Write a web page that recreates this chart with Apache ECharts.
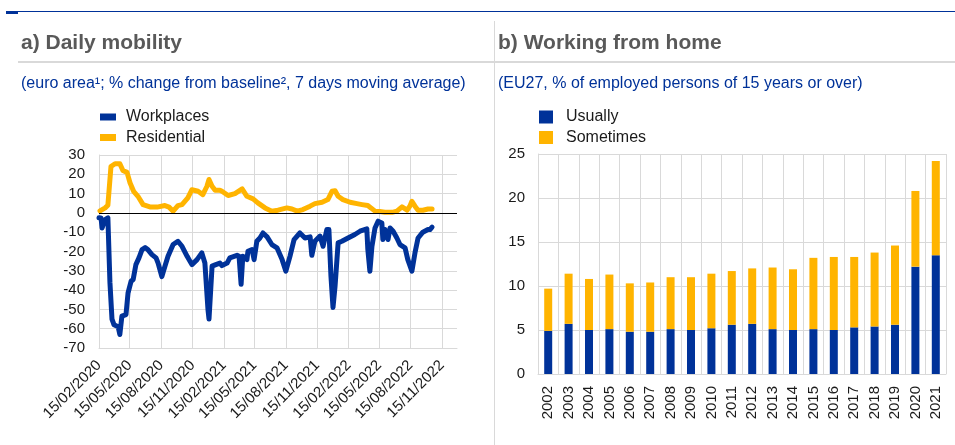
<!DOCTYPE html>
<html>
<head>
<meta charset="utf-8">
<script src="https://cdn.jsdelivr.net/npm/echarts@6/dist/echarts.min.js"></script>
<style>
  html, body { margin: 0; padding: 0; background: #fff; }
  #chart { width: 955px; height: 445px; }
</style>
</head>
<body>
<div id="chart"></div>
<script>
// ---- Panel a) Daily mobility: euro area, % change from baseline, 7-day moving average ----
const workplacesDates = [
  '2020-02-15','2020-02-21','2020-02-24','2020-03-04','2020-03-12','2020-03-18','2020-03-24','2020-03-30',
  '2020-04-11','2020-04-16','2020-04-22','2020-05-04','2020-05-10','2020-05-19','2020-05-25','2020-06-02',
  '2020-06-11','2020-06-20','2020-06-29','2020-07-07','2020-07-19','2020-07-31','2020-08-06','2020-08-17',
  '2020-08-26','2020-09-04','2020-09-19','2020-10-03','2020-10-15','2020-10-30','2020-11-13','2020-11-28',
  '2020-12-12','2020-12-21','2020-12-30','2021-01-02','2021-01-11','2021-01-22','2021-02-03','2021-02-09',
  '2021-02-24','2021-03-04','2021-03-25','2021-03-31','2021-04-06','2021-04-11','2021-04-23','2021-04-26',
  '2021-05-08','2021-05-14','2021-05-22','2021-05-31','2021-06-09','2021-06-21','2021-07-05','2021-07-20',
  '2021-08-04','2021-08-15','2021-08-27','2021-09-08','2021-09-25','2021-10-10','2021-10-25','2021-10-30',
  '2021-11-08','2021-11-23','2021-12-02','2021-12-13','2021-12-19','2021-12-25','2021-12-31','2022-01-06',
  '2022-01-15','2022-01-26','2022-02-13','2022-03-05','2022-03-20','2022-04-09','2022-04-12','2022-04-18',
  '2022-04-24','2022-05-03','2022-05-12','2022-05-23','2022-05-26','2022-06-01','2022-06-10','2022-06-16',
  '2022-06-25','2022-07-06','2022-07-15','2022-07-30','2022-08-07','2022-08-19','2022-08-28','2022-09-06',
  '2022-09-20','2022-10-05','2022-10-11','2022-10-17'
];
const workplacesValues = [
  -2.5, -2.6, -7.8, -3.5, -2.6, -36, -55, -58,
  -59, -63, -53.5, -52.7, -41.5, -35.4, -34.5, -26.8,
  -23.3, -19, -18, -19, -21.6, -23.3, -26, -33,
  -27.6, -22.5, -16.4, -14.7, -17.3, -22.5, -26.8, -24.2,
  -20.7, -26, -50, -55, -27.6, -26.8, -26, -27.3,
  -26, -23.3, -22, -22.5, -37, -22.5, -24.2, -19.9,
  -19, -24.2, -14.7, -13, -10.4, -12.4, -16.4, -18.1,
  -24.2, -30.2, -22.5, -13.8, -10.4, -13, -12.4, -22,
  -14.7, -12, -17.3, -8.6, -8.6, -32.8, -49, -38,
  -15.5, -14.7, -13, -11.2, -9.5, -8.3, -19, -30.2,
  -17.3, -7.8, -4.3, -5.2, -13.8, -8.6, -13.8, -7.8,
  -9.5, -13, -16.4, -18.1, -24.2, -30.2, -20.7, -13,
  -10, -8.6, -8.6, -7.4
];
const residentialDates = [
  '2020-02-18','2020-03-04','2020-03-12','2020-03-21','2020-04-02','2020-04-16','2020-04-25','2020-05-07',
  '2020-05-16','2020-05-27','2020-06-08','2020-06-23','2020-07-13','2020-08-03','2020-08-26','2020-09-07',
  '2020-09-19','2020-10-03','2020-10-15','2020-11-01','2020-11-13','2020-12-01','2020-12-15','2020-12-27',
  '2021-01-02','2021-01-11','2021-01-20','2021-02-03','2021-02-09','2021-02-27','2021-03-19','2021-04-09',
  '2021-04-23','2021-05-11','2021-05-25','2021-06-15','2021-07-05','2021-07-23','2021-08-18','2021-09-02',
  '2021-09-17','2021-10-04','2021-10-25','2021-11-08','2021-11-29','2021-12-16','2021-12-28','2022-01-06',
  '2022-01-15','2022-01-29','2022-02-19','2022-03-11','2022-03-26','2022-04-12','2022-04-21','2022-05-03',
  '2022-05-17','2022-06-01','2022-06-22','2022-07-06','2022-07-21','2022-08-05','2022-08-13','2022-08-19',
  '2022-08-28','2022-09-06','2022-09-20','2022-10-05','2022-10-17'
];
const residentialValues = [
  1, 2.6, 4, 24, 25.5, 25.5, 22, 21,
  15.5, 11, 8.6, 4.3, 3.1, 3, 3.8, 3,
  0.9, 3.8, 4.3, 7.8, 12, 11.2, 9.5, 13.8,
  17.3, 13.8, 11.7, 11.7, 11.2, 9, 10, 12.4,
  8.6, 7.3, 5.2, 2.6, 0.9, 1.4, 2.6, 2,
  0.9, 1.7, 3.5, 4.8, 5.5, 6.9, 11.2, 11.5,
  8.6, 6.9, 5.5, 4.8, 4.3, 3.8, 2.6, 0.9,
  0.7, 0.3, 0.3, 0.9, 3.1, 1.4, 3.5, 6,
  3.5, 1.4, 1.4, 2, 2
];
// Quarterly date ticks shown on the x axis
const quarterTicks = [
  '2020-02-15','2020-05-15','2020-08-15','2020-11-15','2021-02-15','2021-05-15',
  '2021-08-15','2021-11-15','2022-02-15','2022-05-15','2022-08-15','2022-11-15'
];
const axisStart = '2020-02-15';
const axisEnd = '2022-12-29';

// ---- Panel b) Working from home: EU27, % of employed persons aged 15+ ----
const years = ['2002','2003','2004','2005','2006','2007','2008','2009','2010','2011',
               '2012','2013','2014','2015','2016','2017','2018','2019','2020','2021'];
const usually = [4.9, 5.7, 5.0, 5.1, 4.8, 4.8, 5.1, 5.0, 5.2, 5.6,
                 5.7, 5.1, 5.0, 5.1, 5.0, 5.3, 5.4, 5.6, 12.2, 13.5];
const sometimes = [4.8, 5.7, 5.8, 6.2, 5.5, 5.6, 5.9, 6.0, 6.2, 6.1,
                   6.3, 7.0, 6.9, 8.1, 8.3, 8.0, 8.4, 9.0, 8.6, 10.7];

const FONT = '"Liberation Sans", Arial, Helvetica, sans-serif';
const BLUE = '#003299';
const YELLOW = '#FFB400';
const GRID = '#d9d9d9';
const INK = '#1a1a1a';

// Daily category list spanning the time axis
const dayList = [];
for (let t = Date.parse(axisStart + 'T00:00:00Z'); t <= Date.parse(axisEnd + 'T00:00:00Z'); t += 86400000) {
  dayList.push(new Date(t).toISOString().slice(0, 10));
}
const tickSet = new Set(quarterTicks);
const isTick = (idx, val) => tickSet.has(val);
const toDMY = v => v.slice(8, 10) + '/' + v.slice(5, 7) + '/' + v.slice(0, 4);
const pairs = (dates, vals) => dates.map((d, i) => [d, vals[i]]);

const chart = echarts.init(document.getElementById('chart'), null, { renderer: 'canvas' });

chart.setOption({
  animation: false,
  backgroundColor: '#fff',
  textStyle: { fontFamily: FONT },
  graphic: [
    { type: 'rect', shape: { x: 6, y: 11, width: 949, height: 1 }, style: { fill: BLUE }, silent: true },
    { type: 'rect', shape: { x: 6, y: 11, width: 12, height: 3 }, style: { fill: BLUE }, silent: true },
    { type: 'rect', shape: { x: 18, y: 61, width: 937, height: 2 }, style: { fill: GRID }, silent: true },
    { type: 'rect', shape: { x: 494, y: 21, width: 1, height: 424 }, style: { fill: GRID }, silent: true },
    { type: 'text', x: 21, y: 43, silent: true,
      style: { text: 'a) Daily mobility', fontFamily: FONT, fontSize: 21, fontWeight: 'bold', fill: '#595959', verticalAlign: 'middle' } },
    { type: 'text', x: 498, y: 43, silent: true,
      style: { text: 'b) Working from home', fontFamily: FONT, fontSize: 21, fontWeight: 'bold', fill: '#595959', verticalAlign: 'middle' } },
    { type: 'text', x: 21, y: 84, silent: true,
      style: { text: '(euro area\u00b9; % change from baseline\u00b2, 7 days moving average)', fontFamily: FONT, fontSize: 16, fill: BLUE, verticalAlign: 'middle' } },
    { type: 'text', x: 498, y: 84, silent: true,
      style: { text: '(EU27, % of employed persons of 15 years or over)', fontFamily: FONT, fontSize: 16, fill: BLUE, verticalAlign: 'middle' } }
  ],
  legend: [
    {
      data: ['Workplaces', 'Residential'],
      orient: 'vertical', left: 100, top: 109, padding: 0,
      icon: 'rect', itemWidth: 16, itemHeight: 7, itemGap: 4.5,
      selectedMode: false,
      textStyle: { fontFamily: FONT, fontSize: 16, color: INK, padding: [0, 0, 0, 5] }
    },
    {
      data: ['Usually', 'Sometimes'],
      orient: 'vertical', left: 539, top: 109, padding: 0,
      icon: 'rect', itemWidth: 14, itemHeight: 13, itemGap: 4.5,
      selectedMode: false,
      textStyle: { fontFamily: FONT, fontSize: 16, color: INK, padding: [0, 0, 0, 8] }
    }
  ],
  grid: [
    { left: 99, top: 155, width: 358, height: 193, containLabel: false },
    { left: 538, top: 154, width: 408, height: 220, containLabel: false }
  ],
  xAxis: [
    {
      type: 'category', gridIndex: 0, data: dayList, boundaryGap: false,
      axisLine: { show: true, onZero: false, lineStyle: { color: GRID, width: 1 } },
      axisTick: { show: false },
      axisLabel: { interval: isTick, rotate: 45, margin: 15, fontSize: 15, color: INK, fontFamily: FONT, formatter: toDMY },
      splitLine: { show: true, interval: isTick, lineStyle: { color: GRID, width: 1 } }
    },
    {
      type: 'category', gridIndex: 1, data: years,
      axisLine: { show: true, onZero: false, lineStyle: { color: GRID, width: 1 } },
      axisTick: { show: false },
      axisLabel: { interval: 0, rotate: 90, margin: 12, fontSize: 15, color: INK, fontFamily: FONT },
      splitLine: { show: true, interval: 0, lineStyle: { color: GRID, width: 1 } }
    }
  ],
  yAxis: [
    {
      type: 'value', gridIndex: 0, min: -70, max: 30, interval: 10,
      axisLine: { show: true, lineStyle: { color: GRID, width: 1 } },
      axisTick: { show: false },
      axisLabel: { margin: 14, fontSize: 15, color: INK, fontFamily: FONT },
      splitLine: { show: true, lineStyle: { color: GRID, width: 1 } }
    },
    {
      type: 'value', gridIndex: 1, min: 0, max: 25, interval: 5,
      axisLine: { show: true, lineStyle: { color: GRID, width: 1 } },
      axisTick: { show: false },
      axisLabel: { margin: 13, fontSize: 15, color: INK, fontFamily: FONT },
      splitLine: { show: true, lineStyle: { color: GRID, width: 1 } }
    }
  ],
  series: [
    {
      name: 'Workplaces', type: 'line', xAxisIndex: 0, yAxisIndex: 0,
      data: pairs(workplacesDates, workplacesValues),
      showSymbol: false, color: BLUE, itemStyle: { color: BLUE },
      lineStyle: { color: BLUE, width: 5, join: 'round', cap: 'round' },
      z: 3
    },
    {
      name: 'Residential', type: 'line', xAxisIndex: 0, yAxisIndex: 0,
      data: pairs(residentialDates, residentialValues),
      showSymbol: false, color: YELLOW, itemStyle: { color: YELLOW },
      lineStyle: { color: YELLOW, width: 5, join: 'round', cap: 'round' },
      markLine: {
        silent: true, symbol: ['none', 'none'], label: { show: false },
        lineStyle: { color: '#000', width: 1, type: 'solid' },
        data: [{ yAxis: 0 }]
      },
      z: 4
    },
    {
      name: 'Usually', type: 'bar', xAxisIndex: 1, yAxisIndex: 1, stack: 'wfh',
      data: usually, barWidth: 8, color: BLUE, itemStyle: { color: BLUE }
    },
    {
      name: 'Sometimes', type: 'bar', xAxisIndex: 1, yAxisIndex: 1, stack: 'wfh',
      data: sometimes, barWidth: 8, color: YELLOW, itemStyle: { color: YELLOW }
    }
  ]
});
</script>
</body>
</html>
